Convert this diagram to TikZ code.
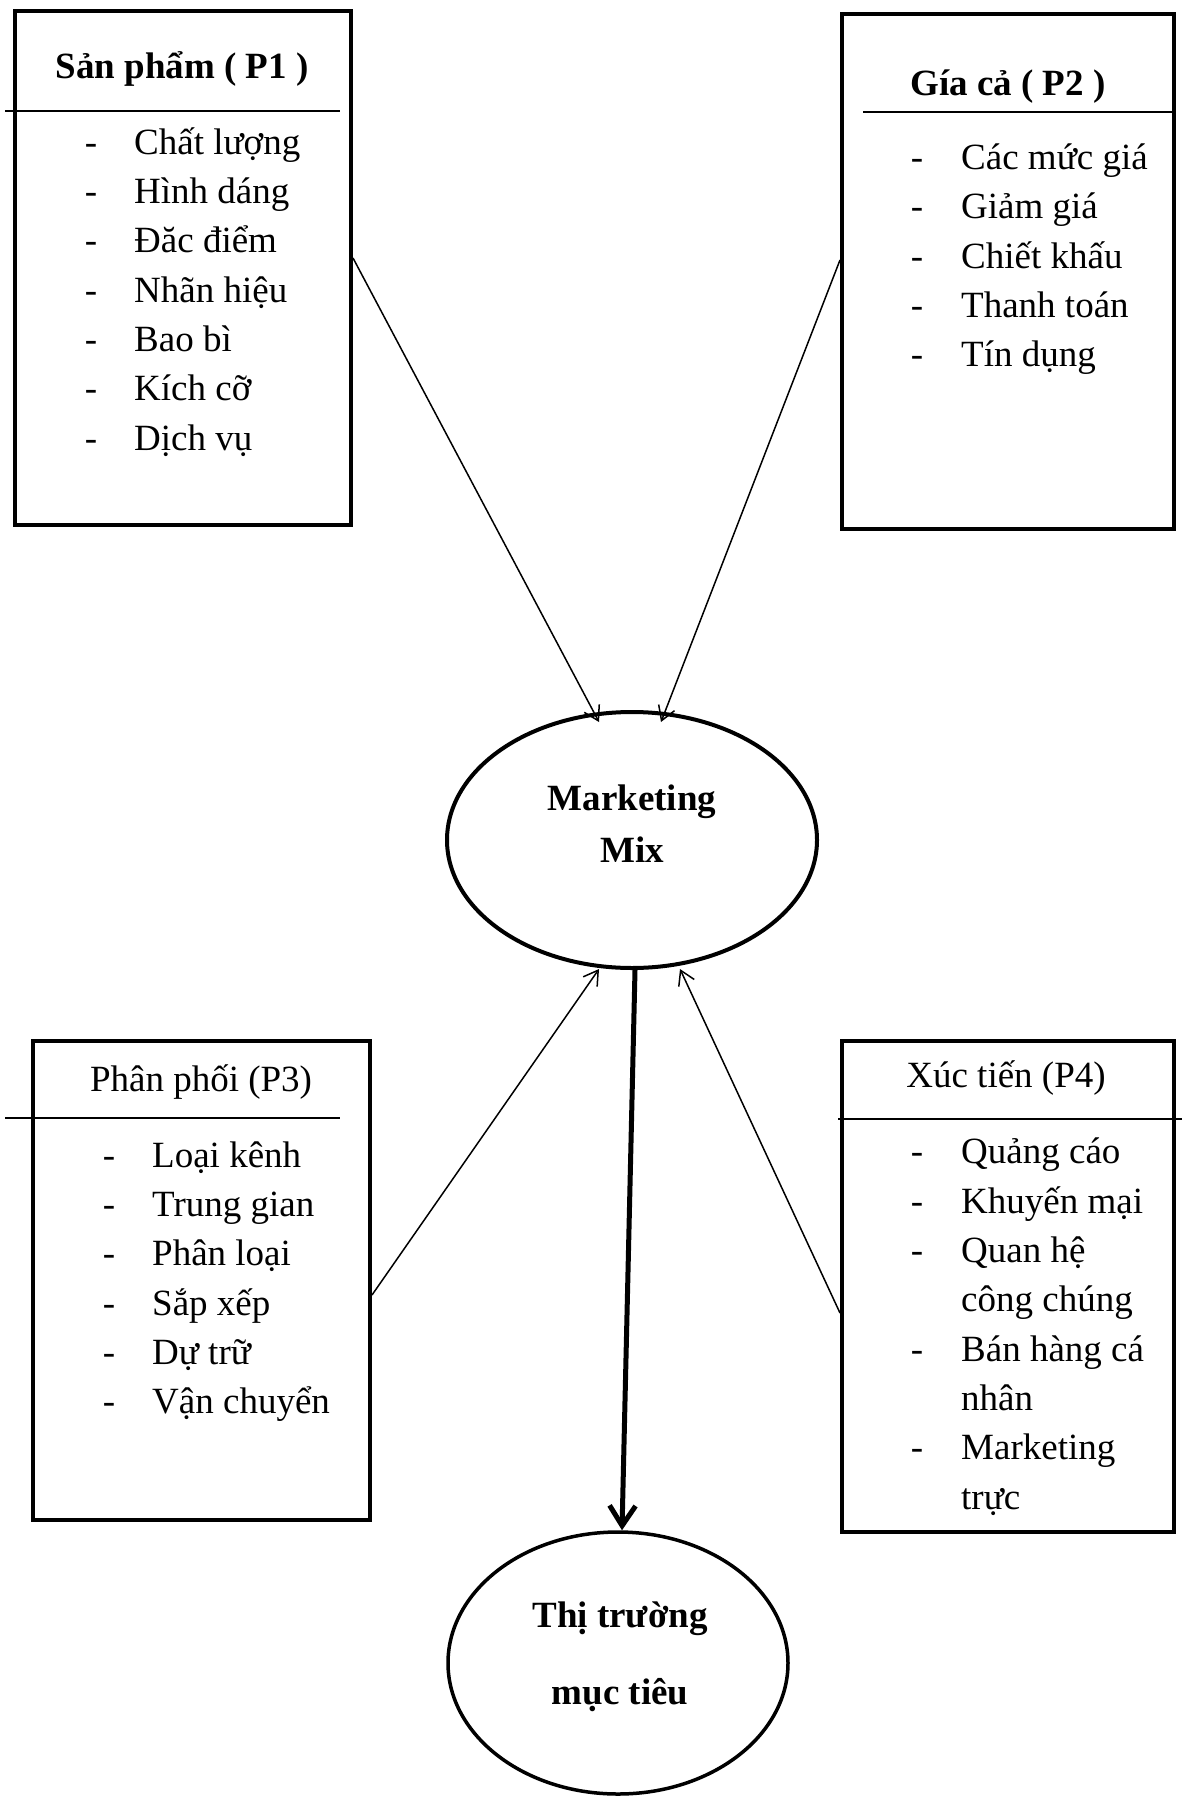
\documentclass[tikz,border=0pt]{standalone}
\usepackage{fontspec}
\setmainfont{Liberation Serif}
\usetikzlibrary{arrows.meta,shapes.geometric}
\begin{document}
\begin{tikzpicture}[x=1pt,y=-1pt,
  panel/.style={draw,rectangle,line width=4pt,inner sep=0pt},
  headrule/.style={line width=1.5pt},
  txt/.style={anchor=mid,inner sep=0pt,yshift=-10pt},
  boxhead/.style={txt,font=\fontsize{37}{44}\selectfont\bfseries},
  boxheadr/.style={txt,font=\fontsize{37}{44}\selectfont},
  listitem/.style={txt,anchor=mid west,font=\fontsize{37}{44}\selectfont},
  listdash/.style={txt,font=\fontsize{37}{44}\selectfont},
  oval/.style={draw,ellipse,line width=4pt,inner sep=0pt},
  ovaltext/.style={txt,font=\fontsize{37}{44}\selectfont\bfseries},
  feedarrow/.style={line width=1.5pt,-{Straight Barb[length=14pt,width=17pt]}},
  mainarrow/.style={line width=5pt,-{Straight Barb[length=20pt,width=26pt]}},
]
\useasboundingbox (0,0) rectangle (1182,1798);

% ---- the four P boxes ----
\node[panel,minimum width=336pt,minimum height=514pt] (p1) at (183,268) {};
\node[panel,minimum width=332pt,minimum height=514pt] (p2) at (1008,271.5) {};
\node[panel,minimum width=337pt,minimum height=479pt] (p3) at (201.5,1280.5) {};
\node[panel,minimum width=332pt,minimum height=491pt] (p4) at (1008,1286.5) {};

% header rules under the titles
\draw[headrule] (5,111) -- (340,111);
\draw[headrule] (863,112) -- (1174,112);
\draw[headrule] (5,1118) -- (340,1118);
\draw[headrule] (838,1119) -- (1182,1119);

% titles
\node[boxhead]  (p1h) at (182,66)    {Sản phẩm ( P1 )};
\node[boxhead]  (p2h) at (1008,83)   {Gía cả ( P2 )};
\node[boxheadr] (p3h) at (201,1079)  {Phân phối (P3)};
\node[boxheadr] (p4h) at (1006,1075) {Xúc tiến (P4)};

% P1 list
\foreach \t [count=\i from 0] in {Chất lượng,Hình dáng,Đăc điểm,Nhãn hiệu,Bao bì,Kích cỡ,Dịch vụ}{
  \node[listdash] (p1d\i) at (91,{142+49.3*\i}) {-};
  \node[listitem] (p1t\i) at (134,{142+49.3*\i}) {\t};
}
% P2 list
\foreach \t [count=\i from 0] in {Các mức giá,Giảm giá,Chiết khấu,Thanh toán,Tín dụng}{
  \node[listdash] (p2d\i) at (917,{157+49.4*\i}) {-};
  \node[listitem] (p2t\i) at (961,{157+49.4*\i}) {\t};
}
% P3 list
\foreach \t [count=\i from 0] in {Loại kênh,Trung gian,Phân loại,Sắp xếp,Dự trữ,Vận chuyển}{
  \node[listdash] (p3d\i) at (109,{1155+49.3*\i}) {-};
  \node[listitem] (p3t\i) at (152,{1155+49.3*\i}) {\t};
}
% P4 list (some entries wrap onto a second line)
\node[listdash] (p4d0) at (917,1151) {-};
\node[listitem] (p4t0) at (961,1151) {Quảng cáo};
\node[listdash] (p4d1) at (917,1201) {-};
\node[listitem] (p4t1) at (961,1201) {Khuyến mại};
\node[listdash] (p4d2) at (917,1250) {-};
\node[listitem] (p4t2) at (961,1250) {Quan hệ};
\node[listitem] (p4t3) at (961,1299) {công chúng};
\node[listdash] (p4d4) at (917,1349) {-};
\node[listitem] (p4t4) at (961,1349) {Bán hàng cá};
\node[listitem] (p4t5) at (961,1398) {nhân};
\node[listdash] (p4d6) at (917,1447) {-};
\node[listitem] (p4t6) at (961,1447) {Marketing};
\node[listitem] (p4t7) at (961,1497) {trực};

% ---- the two ovals ----
\node[oval,minimum width=370pt,minimum height=256pt] (mm) at (632,840) {};
\node[ovaltext] (mm1) at (632,798) {Marketing};
\node[ovaltext] (mm2) at (632,850) {Mix};

\node[oval,line width=3.5pt,minimum width=340pt,minimum height=262pt] (tt) at (618,1663) {};
\node[ovaltext] (tt1) at (620,1615) {Thị trường};
\node[ovaltext] (tt2) at (620,1692) {mục tiêu};

% ---- connectors ----
\draw[feedarrow] ([yshift=10pt]p1.east)    -- ([shift={(-33,-118)}]mm.center);
\draw[feedarrow] ([yshift=11.5pt]p2.west)  -- ([shift={(29,-118)}]mm.center);
\draw[feedarrow] ([yshift=-14.5pt]p3.east) -- ([shift={(-33,129)}]mm.center);
\draw[feedarrow] ([yshift=-26.5pt]p4.west) -- ([shift={(48,129)}]mm.center);
\draw[mainarrow] ([xshift=3pt]mm.south) -- ([xshift=4pt]tt.north);
\end{tikzpicture}
\end{document}
